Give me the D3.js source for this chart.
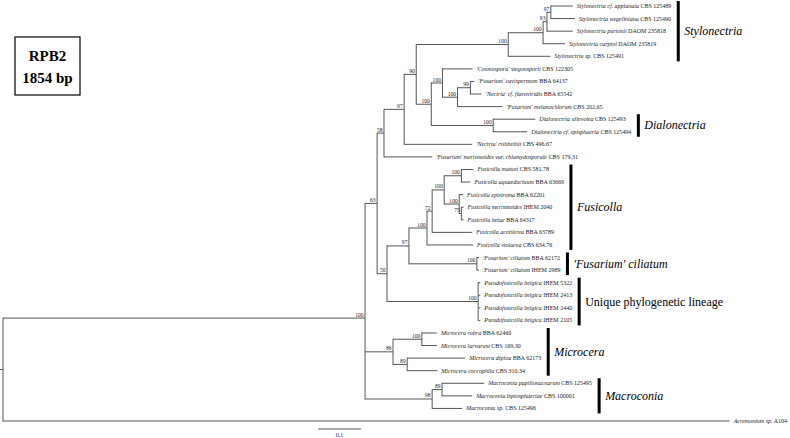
<!DOCTYPE html>
<html><head><meta charset="utf-8">
<script src="https://cdn.jsdelivr.net/npm/d3@7"></script>
<style>body{margin:0;background:#fff}svg{display:block}</style>
</head><body>
<svg id="c" width="790" height="438"></svg>
<script>
// ---------- DATA ----------
const taxa = [
 "Stylonectria cf. applanata","Stylonectria wegeliniana","Stylonectria purtonii","Stylonectria carpini","Stylonectria sp.",
 "'Cosmospora' stegonsporii","'Fusarium' cavispermum","'Nectria' cf. flavoviridis","'Fusarium' melanochlorum",
 "Dialonectria ullevolea","Dialonectria cf. episphaeria","'Nectria' rishbethii","'Fusarium' merismoides var. chlamydosporale",
 "Fusicolla matuoi","Fusicolla aquaeductuum","Fusicolla epistroma","Fusicolla merismoides","Fusicolla betae",
 "Fusicolla acetilerea","Fusicolla violacea","'Fusarium' ciliatum","'Fusarium' ciliatum",
 "Pseudofusicolla belgica","Pseudofusicolla belgica","Pseudofusicolla belgica","Pseudofusicolla belgica",
 "Microcera rubra","Microcera larvarum","Microcera diploa","Microcera coccophila",
 "Macroconia papilionacearum","Macroconia leptosphaeriae","Macroconia sp.","Acremonium sp."
];
const strains = [
 "CBS 125489","CBS 125490","DAOM 235818","DAOM 235819","CBS 125491",
 "CBS 122305","BBA 64137","BBA 65542","CBS 202.65",
 "CBS 125493","CBS 125494","CBS 496.67","CBS 179.31",
 "CBS 581.78","BBA 63669","BBA 62201","IHEM 2040","BBA 64317",
 "BBA 63789","CBS 634.76","BBA 62172","IHEM 2989",
 "IHEM 5322","IHEM 2413","IHEM 2440","IHEM 2105",
 "BBA 62460","CBS 169.30","BBA 62173","CBS 310.34",
 "CBS 125495","CBS 100001","CBS 125496","A104"
];
// Topology, branch lengths (subst./site) and bootstrap support; leaves are indices into taxa
const newick = "(" +
 "(" +
  "(" +
   "(" +
    "(" +
     "(" +
       "((((0:0.051,1:0.056)97:0.009,2:0.060)93:0.009,3:0.051)100:0.081,4:0.098)100:0.214," +
       "((5:0.070,((6:0.009,7:0.026)99:0.030,8:0.105)100:0.035)100:0.026,(9:0.098,10:0.079)100:0.144)100:0.035" +
     ")90:0.028," +
     "11:0.158" +
    ")97:0.047," +
    "12:0.112" +
   ")58:0.016," +
   "(" +
    "(" +
     "((((13:0.028,14:0.021)100:0.040,(15:0.009,(16:0.005,17:0.005)75:0.005)100:0.035)100:0.028,18:0.093)72:0.012,19:0.107)100:0.042," +
     "(20:0.005,21:0.005)100:0.158" +
    ")97:0.051," +
    "(22:0.005,23:0.005,24:0.005,25:0.005)100:0.212" +
   ")50:0.023" +
  ")63:0.028," +
  "((26:0.035,27:0.035)100:0.067,(28:0.135,29:0.070)89:0.033)86:0.065," +
  "((30:0.098,31:0.070)89:0.023,32:0.070)98:0.156" +
 ")100:0.842," +
 "33:1.690" +
"):0.007;";
const cladeNames  = ["Stylonectria","Dialonectria","Fusicolla","'Fusarium' ciliatum","Unique phylogenetic lineage","Microcera","Macroconia"];
const cladeFirst  = [0, 9, 13, 20, 22, 26, 30];
const cladeLast   = [4, 10, 19, 21, 25, 29, 32];
const cladeItalic = [true, true, true, true, false, true, true];
const scaleBarValue = 0.1, scaleBarLabel = "0,1";
const titleLines = ["RPB2", "1854 bp"];

// ---------- PARSE ----------
function parseNewick(str){
  const s = str.replace(/\s+/g,"");
  let i = 0;
  function node(){
    const n = {children: []};
    if (s[i] === "("){
      i++;
      n.children.push(node());
      while (s[i] === ","){ i++; n.children.push(node()); }
      i++;
    }
    let name = "";
    while (i < s.length && !":,);".includes(s[i])) name += s[i++];
    n.name = name;
    n.length = 0;
    if (s[i] === ":"){
      i++; let l = "";
      while (i < s.length && !",);".includes(s[i])) l += s[i++];
      n.length = +l;
    }
    return n;
  }
  return node();
}

const svg = d3.select("#c");
const FONT = "'Liberation Serif','Times New Roman',serif";
const LINE = "#555";

const root = d3.hierarchy(parseNewick(newick), d => d.children.length ? d.children : null);
root.eachBefore(d => { d.dist = (d.parent ? d.parent.dist : 0) + d.data.length; });

const x = d3.scaleLinear().domain([0, 1]).range([0, 430]);
const y = d3.scalePoint().domain(d3.range(taxa.length)).range([6, 421]);

root.eachAfter(d => {
  if (!d.children) { d.idx = +d.data.name; d.y = y(d.idx); }
  else d.y = d3.mean(d.children, c => c.y);
});

const g = svg.append("g");
// root stem
g.append("line").attr("x1", x(0)).attr("x2", x(root.dist)).attr("y1", root.y).attr("y2", root.y)
  .attr("stroke", LINE).attr("stroke-width", 1);
// horizontal branches
g.selectAll("line.h").data(root.descendants().filter(d => d.parent)).join("line")
  .attr("class","h")
  .attr("x1", d => x(d.parent.dist)).attr("x2", d => x(d.dist))
  .attr("y1", d => d.y).attr("y2", d => d.y)
  .attr("stroke", LINE).attr("stroke-width", 1);
// vertical connectors
g.selectAll("line.v").data(root.descendants().filter(d => d.children)).join("line")
  .attr("class","v")
  .attr("x1", d => x(d.dist)).attr("x2", d => x(d.dist))
  .attr("y1", d => d3.min(d.children, c => c.y) - 0.5).attr("y2", d => d3.max(d.children, c => c.y) + 0.5)
  .attr("stroke", LINE).attr("stroke-width", 1);

// support values
g.selectAll("text.bs").data(root.descendants().filter(d => d.children && d.data.name)).join("text")
  .attr("class","bs")
  .attr("x", d => x(d.dist) - 1.5).attr("y", d => d.y - 1.5)
  .attr("text-anchor","end")
  .attr("font-family", FONT).attr("font-size", 5.6).attr("fill", "#222")
  .text(d => d.data.name);

// leaf labels
const leaves = root.leaves();
const lab = g.selectAll("text.leaf").data(leaves).join("text")
  .attr("class","leaf")
  .attr("x", d => x(d.dist) + 4).attr("y", d => d.y + 2)
  .attr("font-family", FONT).attr("font-size", 6).attr("fill", "#222");
lab.append("tspan").attr("font-style","italic").text(d => taxa[d.idx]);
lab.append("tspan").text(d => " " + strains[d.idx]);

const labelEnd = {};
lab.each(function(d){ labelEnd[d.idx] = x(d.dist) + 4 + this.getComputedTextLength(); });

// clade bars
cladeNames.forEach((name, k) => {
  const ids = d3.range(cladeFirst[k], cladeLast[k] + 1);
  const bx = d3.max(ids, i => labelEnd[i]) + 7;
  const y0 = y(cladeFirst[k]) - 5, y1 = y(cladeLast[k]) + 5;
  svg.append("line").attr("x1", bx).attr("x2", bx).attr("y1", y0).attr("y2", y1)
    .attr("stroke", "#000").attr("stroke-width", 3);
  svg.append("text").attr("x", bx + 6).attr("y", (y0 + y1) / 2 + 4)
    .attr("font-family", FONT).attr("font-size", 12)
    .attr("font-style", cladeItalic[k] ? "italic" : "normal").attr("fill", "#000")
    .text(name);
});

// scale bar
const sbX = 318, sbY = 429;
svg.append("line").attr("x1", sbX).attr("x2", sbX + x(scaleBarValue) - x(0)).attr("y1", sbY).attr("y2", sbY)
  .attr("stroke", LINE).attr("stroke-width", 1);
svg.append("text").attr("x", sbX + (x(scaleBarValue) - x(0)) / 2).attr("y", 437)
  .attr("text-anchor","middle").attr("font-family", FONT).attr("font-size", 6).attr("fill","#222")
  .text(scaleBarLabel);

// title box
svg.append("rect").attr("x", 15).attr("y", 37).attr("width", 65).attr("height", 58)
  .attr("fill", "none").attr("stroke", "#000").attr("stroke-width", 1.2);
svg.selectAll("text.title").data(titleLines).join("text").attr("class","title")
  .attr("x", 47.5).attr("y", (d, i) => 61 + i * 22)
  .attr("text-anchor","middle").attr("font-family", FONT).attr("font-weight","bold").attr("font-size", 15)
  .text(d => d);
</script>
</body></html>
